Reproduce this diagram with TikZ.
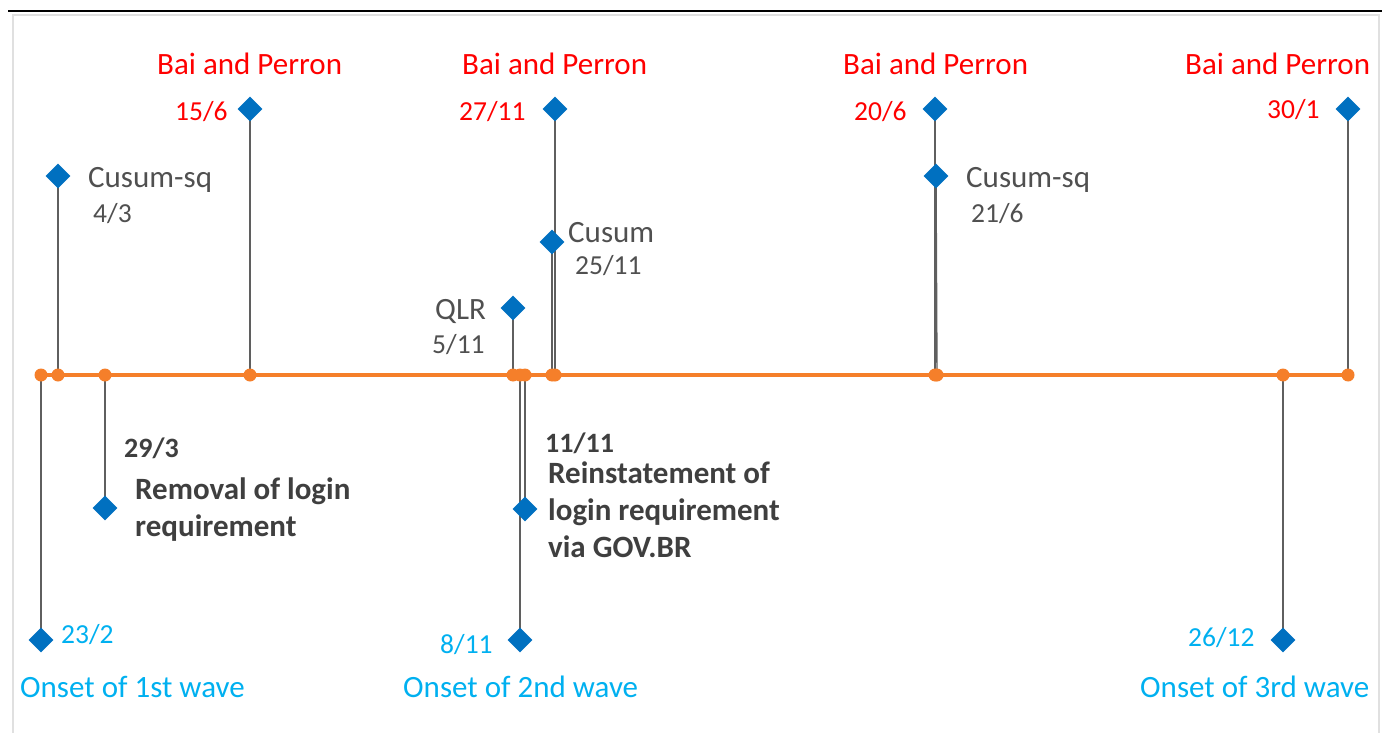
\documentclass[tikz,border=0pt]{standalone}
\usepackage{fontspec}
\setmainfont{Carlito}
\usetikzlibrary{shapes.geometric,backgrounds}
\definecolor{tlorange}{HTML}{F57F2A}
\definecolor{mkblue}{HTML}{0070C0}
\definecolor{bpred}{HTML}{FF0000}
\definecolor{wavecyan}{HTML}{00B0F0}
\definecolor{txtgray}{HTML}{505050}
\definecolor{boldgray}{HTML}{3F3F3F}
\definecolor{stemgray}{HTML}{5F5F5F}
\definecolor{framegray}{HTML}{E0E0E0}
\tikzset{
  dot/.style={circle,fill=tlorange,inner sep=0pt,minimum size=13pt},
  mark diamond/.style={diamond,fill=mkblue,inner sep=0pt,minimum width=25pt,minimum height=25pt},
  stem/.style={draw=stemgray,line width=1.4pt},
  timeline/.style={draw=tlorange,line width=4pt},
  lbl/.style={inner sep=0pt,anchor=base west,font=\fontsize{31}{37}\selectfont},
  datefont/.style={font=\fontsize{27.5}{33}\selectfont},
  redlbl/.style={lbl,text=bpred},
  cyanlbl/.style={lbl,text=wavecyan},
  graylbl/.style={lbl,text=txtgray},
  boldlbl/.style={lbl,text=boldgray,font=\fontsize{31}{37}\selectfont\bfseries},
  bolddate/.style={lbl,text=boldgray,font=\fontsize{28}{33}\selectfont\bfseries},
}
\begin{document}
\begin{tikzpicture}[x=1pt,y=-1pt]
\useasboundingbox (0,0) rectangle (1389,733);
% frame
\draw[framegray,line width=2pt] (13,740) -- (13,15) -- (1379,15) -- (1379,740);
\draw[black,line width=2pt] (8,11.5) -- (1382,11.5);

% dots on the timeline
\node[dot] (d1) at (41,375) {};
\node[dot] (d2) at (58,375) {};
\node[dot] (d3) at (105,375) {};
\node[dot] (d4) at (250,375) {};
\node[dot] (d5) at (513,375) {};
\node[dot] (d6) at (520,375) {};
\node[dot] (d7) at (525,375) {};
\node[dot] (d8) at (552,375) {};
\node[dot] (d9) at (555,375) {};
\node[dot] (d10) at (935,375) {};
\node[dot] (d11) at (937,375) {};
\node[dot] (d12) at (1283,375) {};
\node[dot] (d13) at (1348,375) {};

% diamonds
\node[mark diamond] (m1) at (41,640) {};
\node[mark diamond] (m2) at (58,176) {};
\node[mark diamond] (m3) at (105,508) {};
\node[mark diamond] (m4) at (250,109) {};
\node[mark diamond] (m5) at (513,308) {};
\node[mark diamond] (m6) at (520,640) {};
\node[mark diamond] (m7) at (525,509) {};
\node[mark diamond] (m8) at (552,242) {};
\node[mark diamond] (m9) at (555,109) {};
\node[mark diamond] (m10) at (935,109) {};
\node[mark diamond] (m11) at (936,176) {};
\node[mark diamond] (m12) at (1283,640) {};
\node[mark diamond] (m13) at (1348,109) {};

\begin{scope}[on background layer]
  \foreach \i in {1,...,10,12,13} {\draw[stem] (d\i.center) -- (m\i.center);}
  \draw[stem] (d11.center) -- (m11.center);
  \draw[timeline] (d1.center) -- (d13.center);
\end{scope}

% labels
\node[redlbl] (bp1) at (157,75) {Bai and Perron};
\node[redlbl] (bp2) at (462,75) {Bai and Perron};
\node[redlbl] (bp3) at (843,75) {Bai and Perron};
\node[redlbl] (bp4) at (1185,75) {Bai and Perron};
\node[redlbl,datefont] (t4) at (175,121) {15/6};
\node[redlbl,datefont] (t9) at (459,121) {27/11};
\node[redlbl,datefont] (t10) at (854,121) {20/6};
\node[redlbl,datefont] (t13) at (1267,119) {30/1};

\node[graylbl] (c2) at (88,187) {Cusum-sq};
\node[graylbl,datefont] (t2) at (93,222) {4/3};
\node[graylbl] (c11) at (966,187) {Cusum-sq};
\node[graylbl,datefont] (t11) at (971,222) {21/6};
\node[graylbl] (c8) at (568,242) {Cusum};
\node[graylbl,datefont] (t8) at (575,274) {25/11};
\node[graylbl] (c5) at (435,319) {QLR};
\node[graylbl,datefont] (t5) at (432,353) {5/11};

\node[bolddate] (t3) at (124,457) {29/3};
\node[boldlbl,align=left,anchor=north west] (e3) at (135,478) {Removal of login\\requirement};
\node[bolddate] (t7) at (545,452) {11/11};
\node[boldlbl,align=left,anchor=north west] (e7) at (548,462) {Reinstatement of\\login requirement\\via GOV.BR};

\node[cyanlbl,datefont] (t1) at (61,643) {23/2};
\node[cyanlbl,datefont] (t6) at (440,653) {8/11};
\node[cyanlbl,datefont] (t12) at (1188,646) {26/12};
\node[cyanlbl] (w1) at (20,697) {Onset of 1st wave};
\node[cyanlbl] (w2) at (403,697) {Onset of 2nd wave};
\node[cyanlbl] (w3) at (1140,697) {Onset of 3rd wave};
\end{tikzpicture}
\end{document}
